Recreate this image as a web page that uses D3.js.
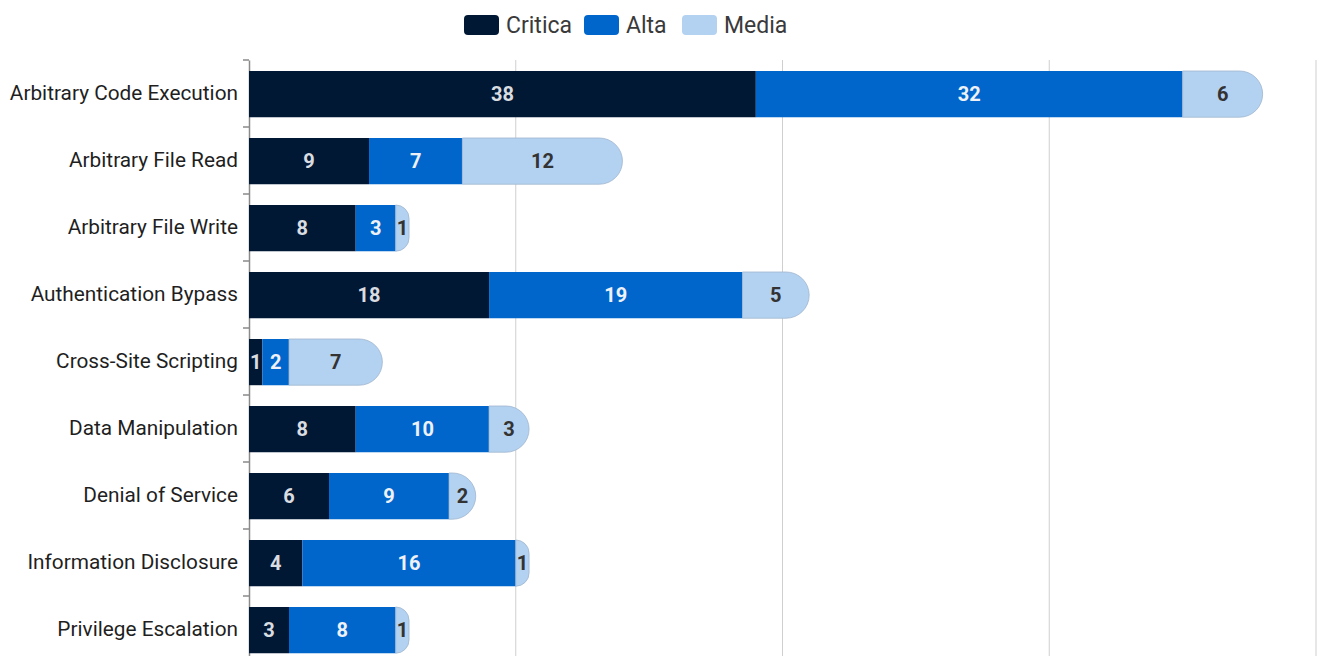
<!DOCTYPE html>
<html>
<head>
<meta charset="utf-8">
<script src="https://cdn.jsdelivr.net/npm/d3@7"></script>
<style>
  html, body { margin: 0; padding: 0; background: #fff; }
  svg { display: block; font-family: "Roboto", "Noto Sans", sans-serif; }
</style>
</head>
<body>
<svg id="chart" width="1320" height="656"></svg>
<script>
// Vulnerability categories and counts per severity
const categories = [
  "Arbitrary Code Execution",
  "Arbitrary File Read",
  "Arbitrary File Write",
  "Authentication Bypass",
  "Cross-Site Scripting",
  "Data Manipulation",
  "Denial of Service",
  "Information Disclosure",
  "Privilege Escalation"
];
const severities = ["Critica", "Alta", "Media"];
const critica = [38, 9, 8, 18, 1, 8, 6, 4, 3];
const alta    = [32, 7, 3, 19, 2, 10, 9, 16, 8];
const media   = [6, 12, 1, 5, 7, 3, 2, 1, 1];
const xTicks  = [0, 20, 40, 60, 80];

const colors = { Critica: "#011834", Alta: "#0066CC", Media: "#B3D1F0" };
const labelColors = { Critica: "#d9dce0", Alta: "#eef2f8", Media: "#333333" };

const rows = categories.map((c, i) => ({ category: c, Critica: critica[i], Alta: alta[i], Media: media[i] }));
const series = d3.stack().keys(severities)(rows);

const svg = d3.select("#chart");
const margin = { top: 60, left: 249, right: 4 };
const bandSize = 67;
const plotBottom = margin.top + bandSize * categories.length;

const x = d3.scaleLinear().domain([0, 80]).range([margin.left, 1316]);
const y = d3.scaleBand().domain(categories).range([margin.top, plotBottom]).paddingInner(0.31).paddingOuter(0.155);

// vertical grid lines
svg.append("g")
  .selectAll("line")
  .data(xTicks.slice(1))
  .join("line")
  .attr("x1", d => x(d)).attr("x2", d => x(d))
  .attr("y1", margin.top).attr("y2", plotBottom)
  .attr("stroke", "#cfcfcf").attr("stroke-width", 1);

// category axis
const yAxis = d3.axisLeft(d3.scaleBand().domain(categories).range([margin.top, plotBottom]))
  .tickSize(0).tickPadding(11);
const yg = svg.append("g").attr("transform", `translate(${margin.left},0)`).call(yAxis);
yg.select(".domain").attr("stroke", "#8a8a8a").attr("stroke-width", 1.5);
yg.selectAll("text").attr("font-size", 20.8).attr("fill", "#1f1f1f").attr("font-family", "Roboto, sans-serif");
// boundary ticks between categories
svg.append("g")
  .selectAll("line")
  .data(d3.range(categories.length + 1))
  .join("line")
  .attr("x1", margin.left - 6).attr("x2", margin.left)
  .attr("y1", i => margin.top + i * bandSize).attr("y2", i => margin.top + i * bandSize)
  .attr("stroke", "#8a8a8a").attr("stroke-width", 1.5);

// segment shape: the last series gets a rounded right end
function segPath(x0, x1, y0, h, rounded) {
  const w = x1 - x0;
  if (!rounded) return `M${x0},${y0}H${x1}V${y0 + h}H${x0}Z`;
  const r = Math.min(h / 2, w);
  return `M${x0},${y0}H${x1 - r}A${r},${r} 0 0 1 ${x1},${y0 + r}` +
         `V${y0 + h - r}A${r},${r} 0 0 1 ${x1 - r},${y0 + h}H${x0}Z`;
}

const bars = svg.append("g").attr("transform", "translate(0,0.6)");
series.forEach((s, si) => {
  const key = s.key;
  const last = si === series.length - 1;
  const g = bars.append("g");
  g.selectAll("path")
    .data(s)
    .join("path")
    .attr("d", d => segPath(x(d[0]), x(d[1]), y(d.data.category), y.bandwidth(), last))
    .attr("fill", colors[key])
    .attr("stroke", last ? "#9fb6cf" : "none")
    .attr("stroke-width", last ? 0.8 : 0);
  g.selectAll("text")
    .data(s)
    .join("text")
    .attr("x", d => (x(d[0]) + x(d[1])) / 2)
    .attr("y", d => y(d.data.category) + y.bandwidth() / 2)
    .attr("dy", "0.36em")
    .attr("text-anchor", "middle")
    .attr("font-size", 20)
    .attr("font-weight", 700)
    .attr("fill", labelColors[key])
    .text(d => d.data[key]);
});

// legend
const legend = svg.append("g");
const items = [
  { key: "Critica", x: 464 },
  { key: "Alta", x: 584 },
  { key: "Media", x: 682 }
];
items.forEach(it => {
  legend.append("rect")
    .attr("x", it.x).attr("y", 15).attr("width", 35).attr("height", 20).attr("rx", 4)
    .attr("fill", colors[it.key]);
  legend.append("text")
    .attr("x", it.x + 42).attr("y", 25).attr("dy", "0.36em")
    .attr("font-size", 23).attr("fill", "#3a3a3a")
    .text(it.key);
});
</script>
</body>
</html>
